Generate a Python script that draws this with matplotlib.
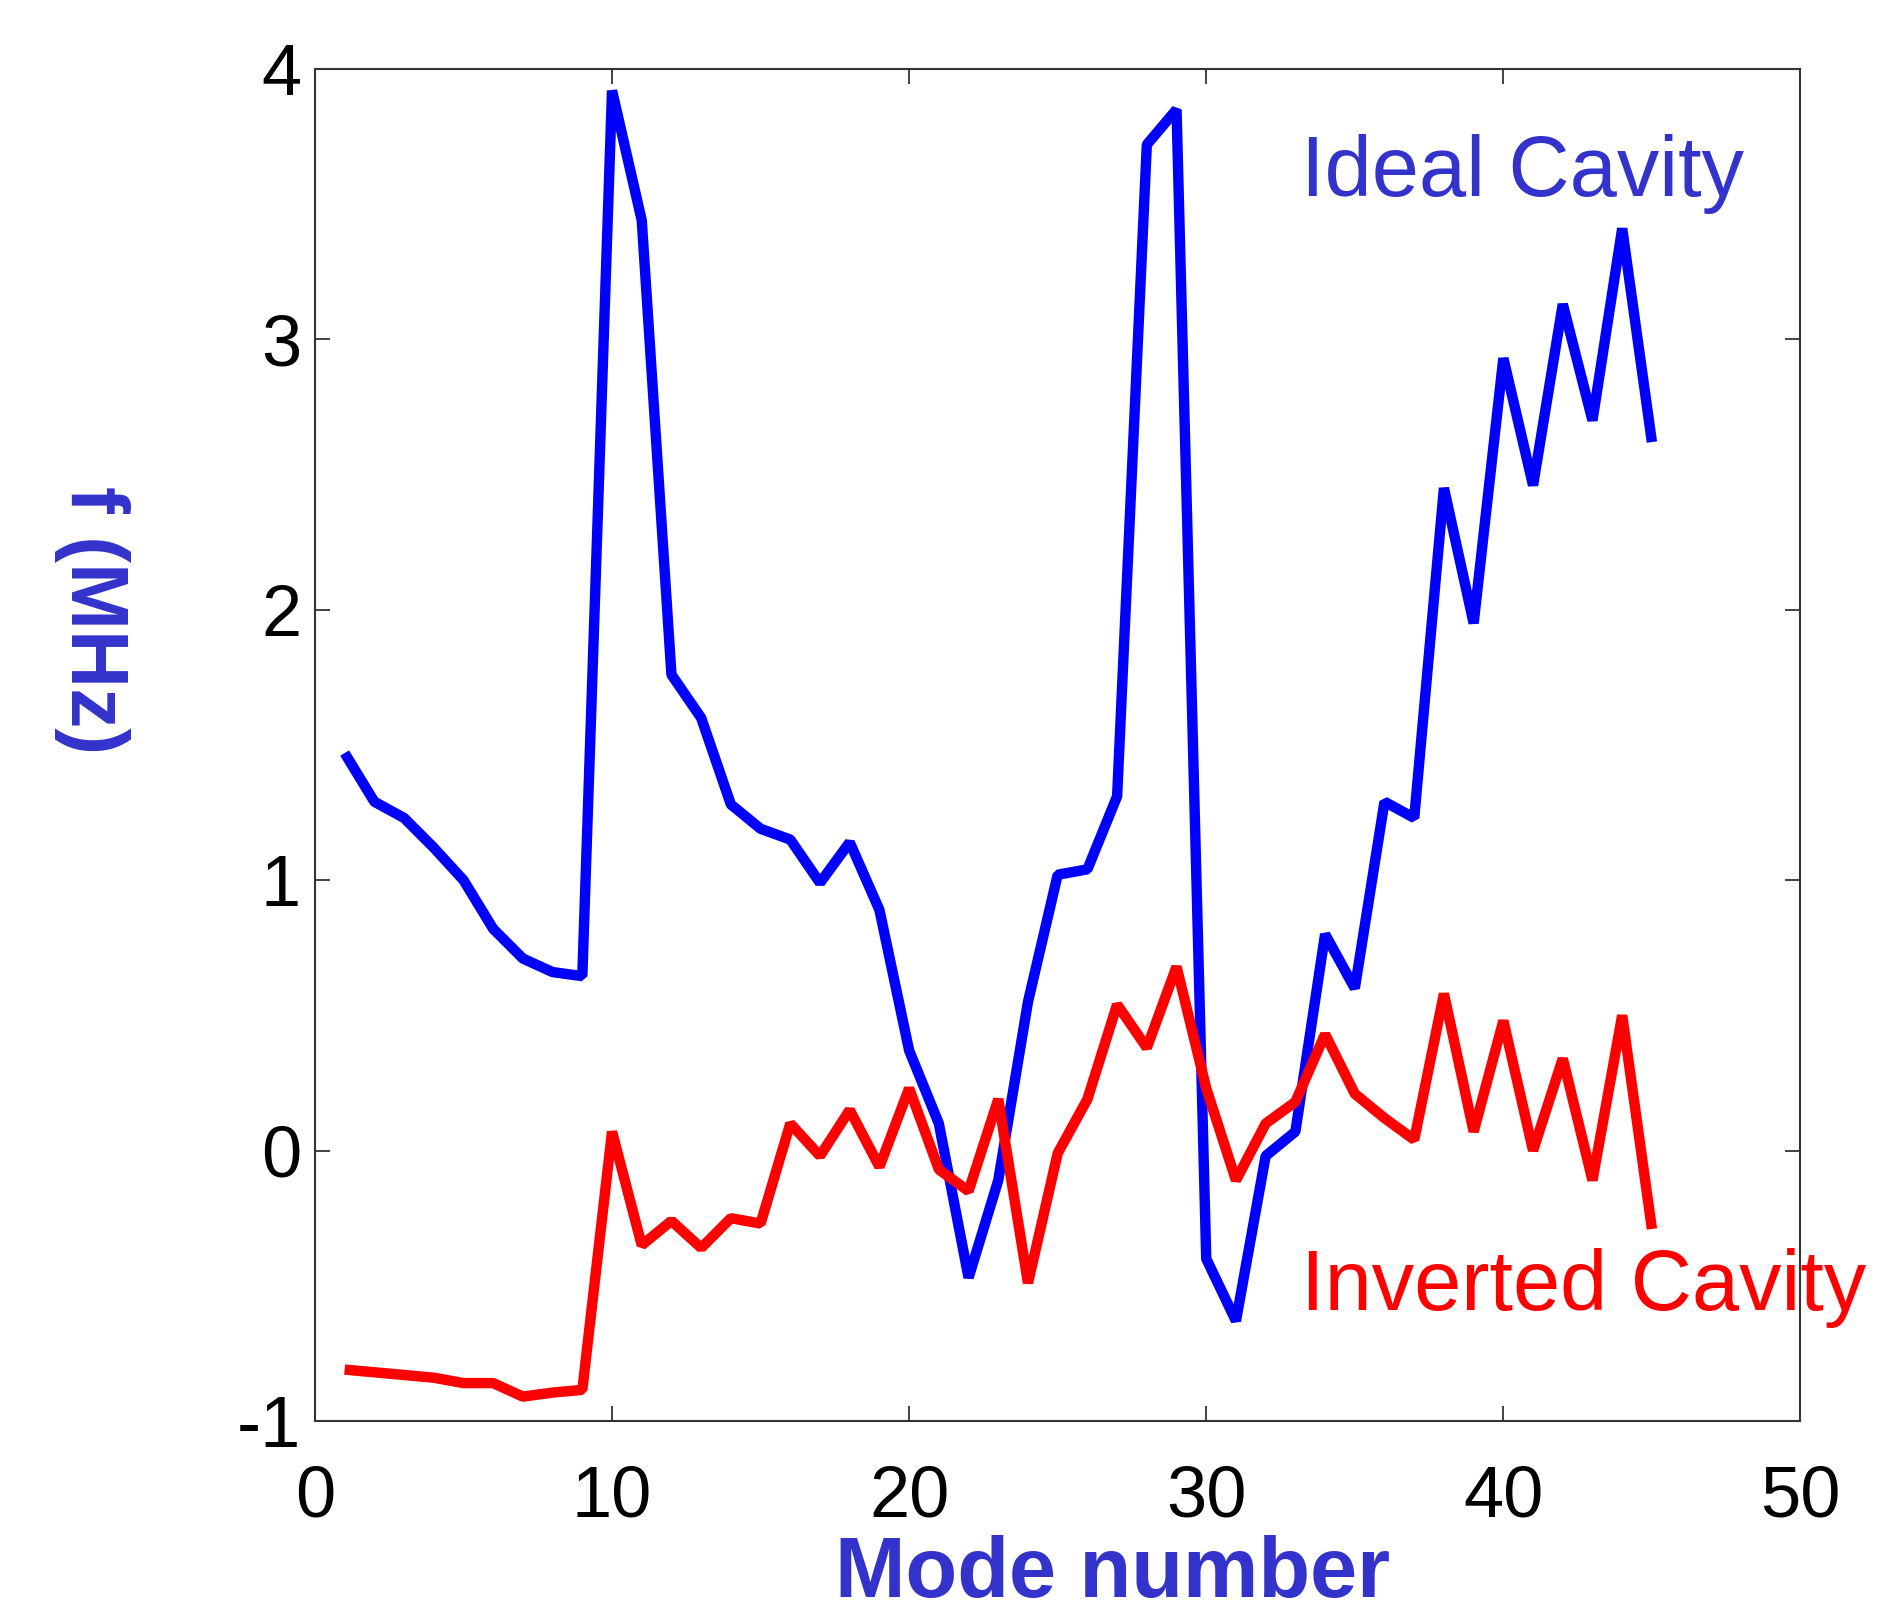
import matplotlib
matplotlib.use("Agg")
import matplotlib.pyplot as plt

plt.rcParams['axes.unicode_minus'] = False

# mode numbers 1..45
modes = list(range(1, 46))

ideal_cavity = [1.47, 1.29, 1.23, 1.12, 1.00, 0.82, 0.71, 0.66, 0.645, 3.92,
                3.44, 1.76, 1.60, 1.28, 1.19, 1.15, 0.99, 1.14, 0.89, 0.37,
                0.10, -0.47, -0.11, 0.55, 1.02, 1.04, 1.31, 3.72, 3.85, -0.40,
                -0.63, -0.02, 0.07, 0.80, 0.60, 1.29, 1.23, 2.45, 1.95, 2.93,
                2.46, 3.13, 2.70, 3.41, 2.62]

inverted_cavity = [-0.81, -0.82, -0.83, -0.84, -0.86, -0.86, -0.91, -0.895, -0.885, 0.07,
                   -0.35, -0.26, -0.36, -0.25, -0.27, 0.10, -0.02, 0.15, -0.06, 0.23,
                   -0.07, -0.15, 0.19, -0.49, -0.01, 0.19, 0.54, 0.38, 0.68, 0.23,
                   -0.11, 0.10, 0.18, 0.43, 0.21, 0.12, 0.04, 0.58, 0.07, 0.48,
                   0.00, 0.34, -0.11, 0.50, -0.29]

x_ticks = [0, 10, 20, 30, 40, 50]
y_ticks = [-1, 0, 1, 2, 3, 4]

LABEL_BLUE = '#3333cc'
TEXT_FONT = ['Liberation Sans', 'DejaVu Sans']

fig = plt.figure(figsize=(18.79, 16.14), dpi=100)
ax = fig.add_axes([0.1676, 0.1196, 0.7906, 0.8377])

line_style = dict(linewidth=7.5, solid_joinstyle='bevel', solid_capstyle='butt')
ax.plot(modes, ideal_cavity, color='#0000ff', **line_style)
ax.plot(modes, inverted_cavity, color='#ff0000', **line_style)

ax.set_xlim(0, 50)
ax.set_ylim(-1, 4)
ax.set_xticks(x_ticks)
ax.set_yticks(y_ticks)
ax.set_xticklabels([str(t) for t in x_ticks], family=TEXT_FONT, fontsize=52)
ax.set_yticklabels([str(t) for t in y_ticks], family=TEXT_FONT, fontsize=52)
ax.tick_params(direction='in', length=11, width=1.2, color='#222222',
               top=True, right=True)
ax.tick_params(axis='x', pad=31)
ax.tick_params(axis='y', pad=10)
for s in ax.spines.values():
    s.set_color('#333333')
    s.set_linewidth(1.5)

ax.set_xlabel('Mode number', fontsize=61, fontweight='bold', color=LABEL_BLUE,
              family=TEXT_FONT, va='top')
ax.xaxis.set_label_coords(0.537, -0.084)
ax.set_ylabel('f (MHz)', fontsize=58, fontweight='bold', color=LABEL_BLUE,
              family=TEXT_FONT, rotation=270, va='center', ha='center')
ax.yaxis.set_label_coords(-0.15, 0.592)

ax.text(33.2, 3.53, 'Ideal Cavity', color=LABEL_BLUE, fontsize=61,
        family=TEXT_FONT, clip_on=False)
ax.text(33.2, -0.59, 'Inverted Cavity', color='#ff0000', fontsize=61,
        family=TEXT_FONT, clip_on=False)

fig.savefig('out.png', dpi=100)
